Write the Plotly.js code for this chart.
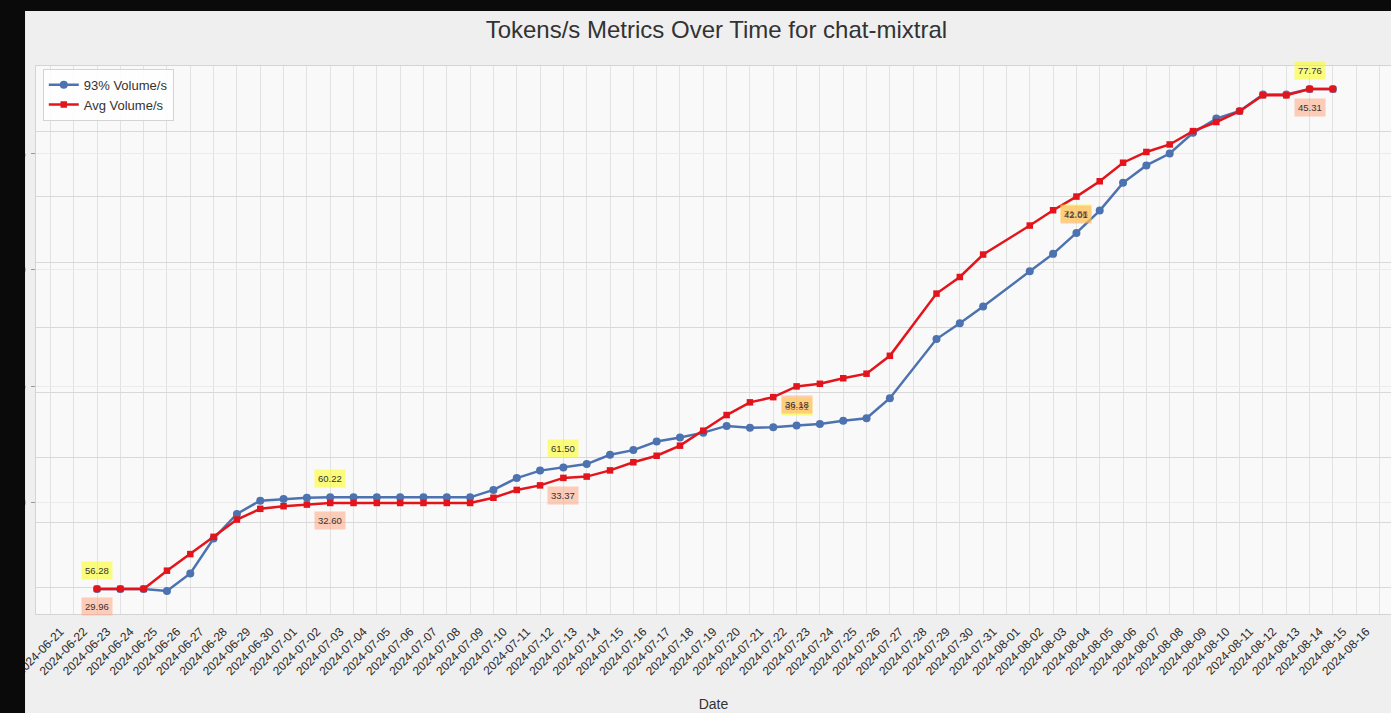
<!DOCTYPE html>
<html>
<head>
<meta charset="utf-8">
<script src="https://cdn.plot.ly/plotly-3.0.1.min.js"></script>
<style>
  html, body { margin: 0; padding: 0; background: #0a0a0a; }
  #chart { width: 1391px; height: 713px; }
</style>
</head>
<body>
<div id="chart"></div>
<script>
// ---- data ----
const dates = [
  '2024-06-23','2024-06-24','2024-06-25','2024-06-26','2024-06-27','2024-06-28','2024-06-29','2024-06-30',
  '2024-07-01','2024-07-02','2024-07-03','2024-07-04','2024-07-05','2024-07-06','2024-07-07','2024-07-08',
  '2024-07-09','2024-07-10','2024-07-11','2024-07-12','2024-07-13','2024-07-14','2024-07-15','2024-07-16',
  '2024-07-17','2024-07-18','2024-07-19','2024-07-20','2024-07-21','2024-07-22','2024-07-23','2024-07-24',
  '2024-07-25','2024-07-26','2024-07-27','2024-07-29','2024-07-30','2024-07-31','2024-08-02','2024-08-03',
  '2024-08-04','2024-08-05','2024-08-06','2024-08-07','2024-08-08','2024-08-09','2024-08-10','2024-08-11',
  '2024-08-12','2024-08-13','2024-08-14','2024-08-15'
];
const p93Volume = [
  56.28, 56.28, 56.28, 56.20, 56.95, 58.45, 59.51, 60.08,
  60.15, 60.20, 60.22, 60.22, 60.22, 60.22, 60.22, 60.22,
  60.22, 60.54, 61.05, 61.37, 61.50, 61.65, 62.05, 62.25,
  62.62, 62.79, 63.00, 63.29, 63.21, 63.23, 63.31, 63.37,
  63.51, 63.62, 64.48, 67.02, 67.70, 68.42, 69.93, 70.68,
  71.58, 72.54, 73.73, 74.48, 74.99, 75.88, 76.49, 76.82,
  77.53, 77.53, 77.76, 77.76
];
const avgVolume = [
  29.96, 29.96, 29.96, 30.52, 31.03, 31.56, 32.09, 32.42,
  32.50, 32.55, 32.60, 32.60, 32.60, 32.60, 32.60, 32.60,
  32.60, 32.76, 33.00, 33.14, 33.37, 33.41, 33.60, 33.85,
  34.05, 34.36, 34.82, 35.30, 35.69, 35.85, 36.18, 36.26,
  36.43, 36.57, 37.12, 39.03, 39.54, 40.23, 41.12, 41.59,
  42.01, 42.48, 43.05, 43.38, 43.61, 44.02, 44.30, 44.63,
  45.12, 45.12, 45.31, 45.31
];
const annotIdx = [0, 10, 20, 30, 40, 50];
const seriesNames = ['93% Volume/s', 'Avg Volume/s'];

const FONT = 'Liberation Sans, Arial, sans-serif';

const traces = [
  {
    x: dates, y: p93Volume, name: seriesNames[0], type: 'scatter', mode: 'lines+markers',
    line: { color: '#4c72b0', width: 2.5 },
    marker: { color: '#4c72b0', size: 8 },
    yaxis: 'y'
  },
  {
    x: dates, y: avgVolume, name: seriesNames[1], type: 'scatter', mode: 'lines+markers',
    line: { color: '#e3141b', width: 2.5 },
    marker: { color: '#e3141b', size: 6.5, symbol: 'square' },
    yaxis: 'y2'
  }
];

const annotations = [];
annotIdx.forEach(i => {
  annotations.push({
    x: dates[i], y: p93Volume[i], xref: 'x', yref: 'y',
    text: p93Volume[i].toFixed(2), showarrow: false, yshift: 19,
    bgcolor: 'rgba(255,255,0,0.5)', borderpad: 3,
    font: { family: FONT, size: 9.5, color: '#333' }
  });
  annotations.push({
    x: dates[i], y: avgVolume[i], xref: 'x', yref: 'y2',
    text: avgVolume[i].toFixed(2), showarrow: false, yshift: -18,
    bgcolor: 'rgba(255,160,122,0.5)', borderpad: 3,
    font: { family: FONT, size: 9.5, color: '#333' }
  });
});

const layout = {
  width: 1391, height: 713,
  margin: { l: 36, r: 0, t: 66, b: 99 },
  paper_bgcolor: '#efefef',
  plot_bgcolor: '#f9f9f9',
  font: { family: FONT, color: '#333' },
  title: {
    text: 'Tokens/s Metrics Over Time for chat-mixtral',
    font: { family: FONT, size: 24, color: '#333' },
    x: 0.515, xanchor: 'center', y: 0.958, yanchor: 'middle'
  },
  showlegend: true,
  legend: {
    x: 0.005, y: 0.995, xanchor: 'left', yanchor: 'top',
    bgcolor: 'rgba(255,255,255,0.85)', bordercolor: '#d4d4d4', borderwidth: 1,
    font: { family: FONT, size: 13, color: '#333' },
    tracegroupgap: 0
  },
  xaxis: {
    type: 'date',
    range: ['2024-06-20 09:13', '2024-08-17 11:46'],
    tick0: '2024-06-21', dtick: 86400000,
    tickformat: '%Y-%m-%d', tickangle: -45,
    ticklabelshift: 10, ticklabelstandoff: 5,
    tickfont: { family: FONT, size: 12, color: '#2a2a2a' },
    showgrid: true, gridcolor: '#e2e2e2', gridwidth: 1,
    showline: true, linecolor: '#d4d4d4', mirror: true,
    ticks: '', zeroline: false,
    title: { text: 'Date', standoff: 22, font: { family: FONT, size: 14, color: '#333' } }
  },
  yaxis: {
    range: [55.21, 78.75], dtick: 5, tick0: 0,
    showgrid: true, gridcolor: '#ebebeb', gridwidth: 1,
    ticks: 'outside', ticklen: 4, tickcolor: '#999',
    ticklabelstandoff: 3,
    tickfont: { family: FONT, size: 12, color: '#333' },
    showline: true, linecolor: '#d4d4d4', mirror: true, zeroline: false
  },
  yaxis2: {
    overlaying: 'y', side: 'right',
    range: [29.19, 46.02], dtick: 2, tick0: 0,
    showgrid: true, gridcolor: '#d9d9d9', gridwidth: 1.4,
    showticklabels: false, ticks: '', zeroline: false, showline: false
  },
  annotations: annotations,
  shapes: [
    { type: 'rect', xref: 'paper', yref: 'paper', layer: 'above',
      x0: -0.04, x1: -0.0081, y0: -0.25, y1: 1.15,
      fillcolor: '#0a0a0a', line: { width: 0 } },
    { type: 'rect', xref: 'paper', yref: 'paper', layer: 'above',
      x0: -0.04, x1: 1.02, y0: 1.1004, y1: 1.15,
      fillcolor: '#0a0a0a', line: { width: 0 } }
  ]
};

Plotly.newPlot('chart', traces, layout, { displayModeBar: false, responsive: false });
</script>
</body>
</html>
